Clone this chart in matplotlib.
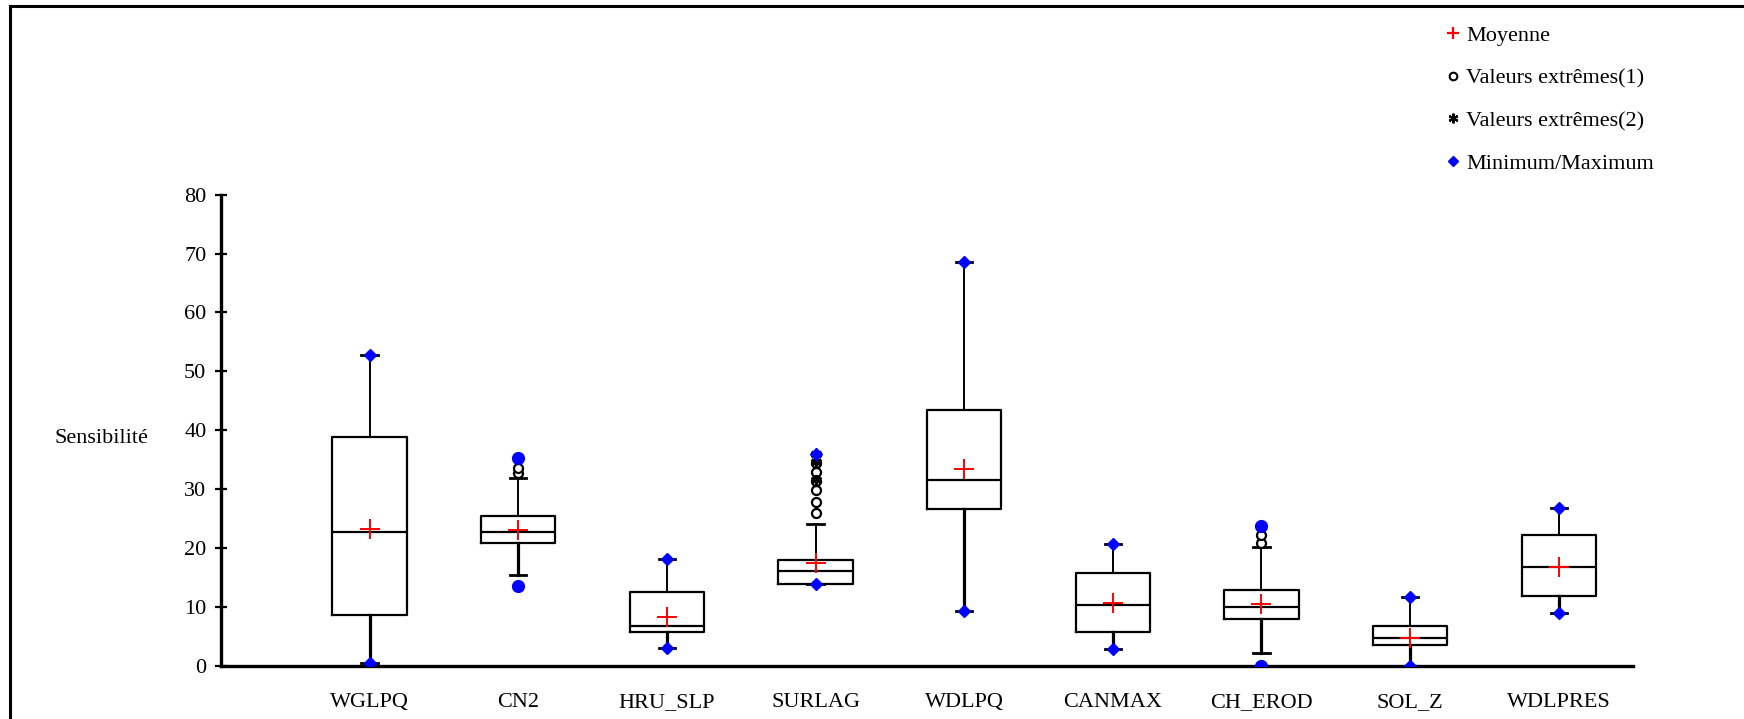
import matplotlib.pyplot as plt
from matplotlib.lines import Line2D

# Sensitivity distribution per SWAT parameter (box-plot summary statistics)
params = ['WGLPQ', 'CN2', 'HRU_SLP', 'SURLAG', 'WDLPQ', 'CANMAX', 'CH_EROD', 'SOL_Z', 'WDLPRES']
q1 = [8.55, 20.8, 5.65, 13.9, 26.55, 5.7, 7.85, 3.5, 11.8]
med = [22.65, 22.65, 6.75, 16.1, 31.6, 10.35, 9.95, 4.65, 16.8]
q3 = [38.8, 25.5, 12.5, 17.9, 43.4, 15.8, 12.85, 6.75, 22.2]
whislo = [0.5, 15.35, 2.95, 13.8, 9.3, 2.85, 2.15, 0.0, 9.0]
whishi = [52.75, 31.9, 18.2, 24.0, 68.5, 20.6, 20.1, 11.7, 26.8]
means = [23.3, 23.0, 8.2, 17.4, 33.35, 10.7, 10.5, 4.75, 16.8]
vmin = [0.5, 13.5, 2.95, 13.8, 9.3, 2.85, 0.0, 0.0, 9.0]
vmax = [52.75, 35.3, 18.2, 36.0, 68.5, 20.6, 23.8, 11.7, 26.8]

# outliers: (1) moderate, (2) far
ext1 = {'CN2': [32.7, 33.6],
        'SURLAG': [25.9, 27.8, 29.8, 31.4, 32.9, 34.4],
        'CH_EROD': [20.9, 22.2]}
ext2 = {'SURLAG': [31.5, 34.6, 36.0]}
round_ext = ['CN2', 'CH_EROD']   # min/max drawn as dots when they are outliers

FONT = 'Liberation Serif'
FS = 16
STAR = (6, 2, 0)   # six-arm asterisk for far outliers
plt.rcParams['font.family'] = FONT

fig = plt.figure(figsize=(17.44, 7.19), dpi=100)
W, H = 1744, 719
ax = fig.add_axes([221 / W, 1 - 665.7 / H, (1633 - 221) / W, (665.7 - 194.7) / H])

pos = list(range(1, len(params) + 1))
stats = [dict(med=m, q1=a, q3=b, whislo=lo, whishi=hi, fliers=[], label=p)
         for p, m, a, b, lo, hi in zip(params, med, q1, q3, whislo, whishi)]
art = ax.bxp(stats, positions=pos, widths=0.5, showfliers=False, capwidths=0.11,
             boxprops=dict(color='black', linewidth=1.6),
             medianprops=dict(color='black', linewidth=1.6),
             capprops=dict(color='black', linewidth=2.0),
             whiskerprops=dict(color='black', linewidth=1.4))
# lower whiskers drawn heavier than upper ones
for i, w in enumerate(art['whiskers']):
    w.set_linewidth(2.3 if i % 2 == 0 else 1.4)

for x, p in zip(pos, params):
    for v in ext1.get(p, []):
        ax.plot(x, v, 'o', ms=6.5, mfc='white', mec='black', mew=1.6, zorder=3)
    for v in ext2.get(p, []):
        ax.plot(x, v, marker=STAR, ms=8, color='black', mew=1.8, zorder=3)

for x, p, lo, hi, wl, wh in zip(pos, params, vmin, vmax, whislo, whishi):
    for v, lim in ((lo, lo < wl), (hi, hi > wh)):
        if lim and p in round_ext:
            ax.plot(x, v, 'o', ms=8.5, color='blue', mec='blue', zorder=4)
        else:
            ax.plot(x, v, 'D', ms=6.5, color='blue', mec='blue', zorder=4)

ax.plot(pos, means, '+', ms=15, mew=1.4, color='red', linestyle='none', zorder=5)

ax.set_xlim(0, 9.5)
ax.set_ylim(0, 80)
ax.set_yticks(range(0, 81, 10))
ax.set_xticks(pos)
ax.set_xticklabels(params)
ax.tick_params(axis='x', length=0, pad=20, labelsize=FS)
ax.tick_params(axis='y', direction='inout', length=9, width=1.6, pad=6, labelsize=FS)
for s in ('top', 'right'):
    ax.spines[s].set_visible(False)
for s in ('left', 'bottom'):
    ax.spines[s].set_linewidth(2.4)

fig.text(148 / W, 1 - 439 / H, 'Sensibilité', ha='right', va='center', fontsize=FS)

handles = [
    Line2D([], [], marker='+', color='red', ms=9, mew=1.6, linestyle='none'),
    Line2D([], [], marker='o', mfc='white', mec='black', ms=5.5, mew=1.5, linestyle='none'),
    Line2D([], [], marker=STAR, color='black', ms=7, mew=1.6, linestyle='none'),
    Line2D([], [], marker='D', color='blue', ms=5, linestyle='none'),
]
labels = ['Moyenne', 'Valeurs extrêmes(1)', 'Valeurs extrêmes(2)', 'Minimum/Maximum']
fig.legend(handles, labels, loc='upper left', bbox_to_anchor=(1446 / W, 1 - 25 / H),
           frameon=False, fontsize=FS, handlelength=0.6, handletextpad=0.3,
           labelspacing=1.0, borderaxespad=0, borderpad=0)

# outer frame (top and left edges)
fig.add_artist(Line2D([10 / W, 10 / W], [0, 1 - 6 / H], color='black', lw=2.2,
                      transform=fig.transFigure))
fig.add_artist(Line2D([10 / W, 1], [1 - 6 / H, 1 - 6 / H], color='black', lw=2.2,
                      transform=fig.transFigure))

fig.savefig('out.png', dpi=100)
